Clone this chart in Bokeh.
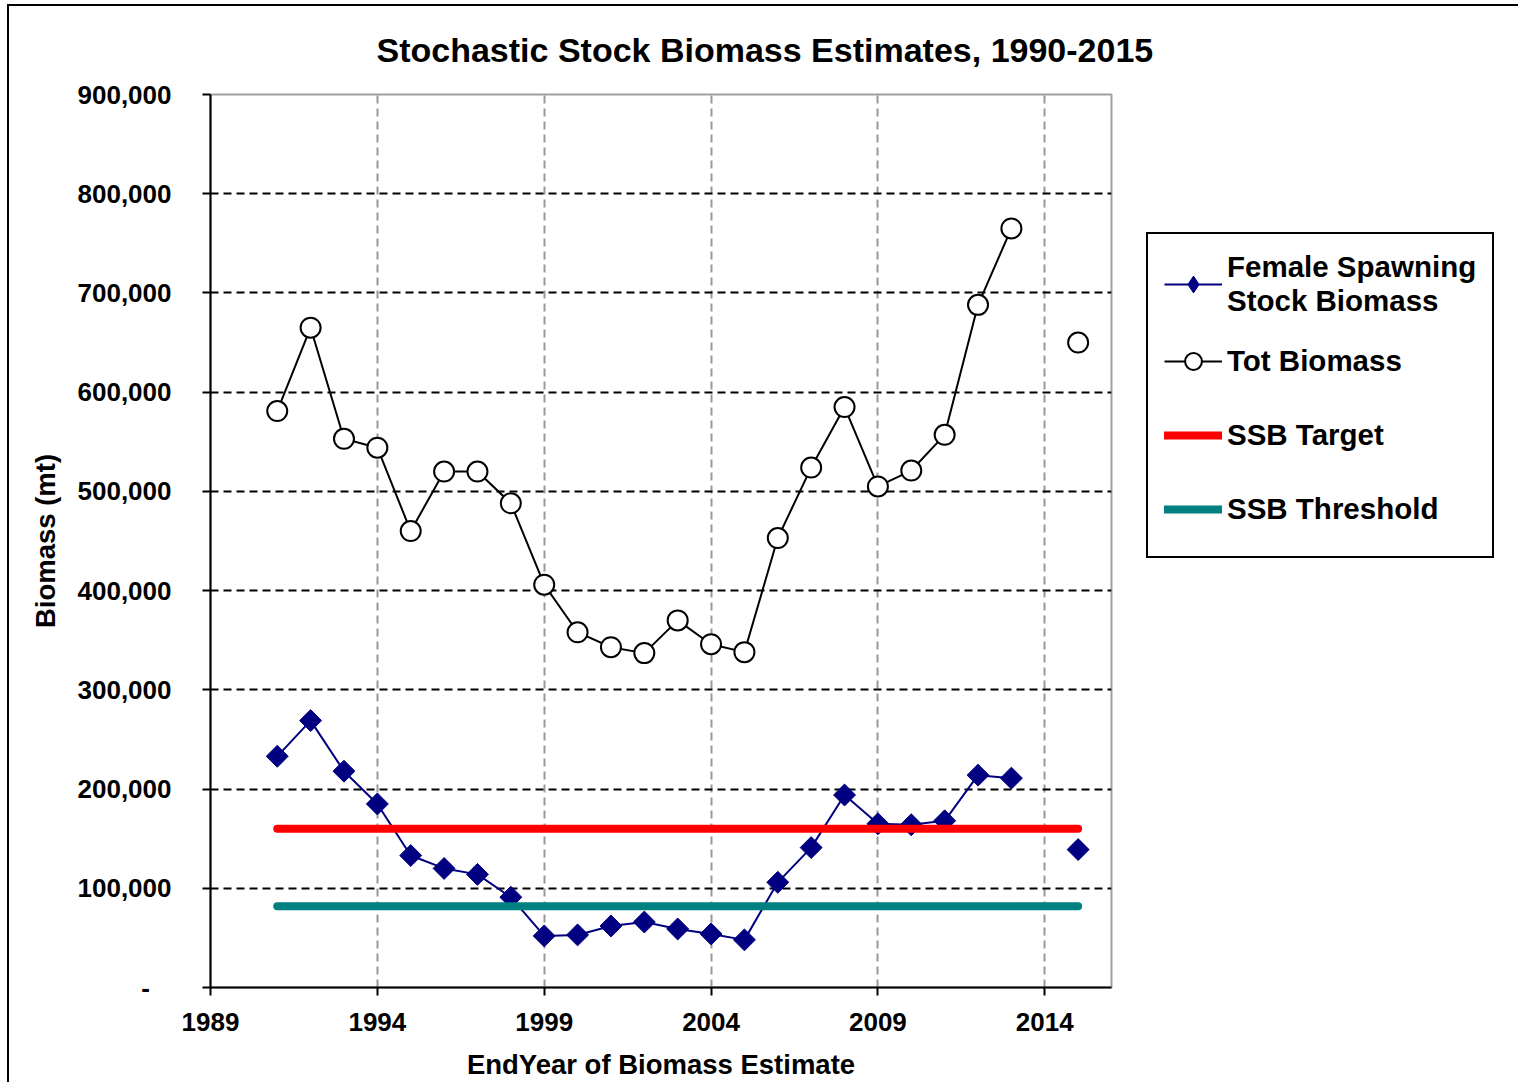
import numpy as np
from bokeh.plotting import figure
from bokeh.models import Range1d, FixedTicker, NumeralTickFormatter, Legend, LegendItem
from bokeh.embed import file_html
from bokeh.resources import INLINE

nan = float("nan")
years = list(range(1991, 2016))
ssb = [233000, 269000, 218000, 185000, 133000, 120000, 114000, 91000, 52000, 53000,
       62000, 66000, 59000, 54000, 48000, 106000, 141000, 194000, 165000, 164000,
       168000, 214000, 211000, nan, 139000]
tot = [581000, 665000, 553000, 544000, 460000, 520000, 520000, 488000, 406000, 358000,
       343000, 337000, 370000, 346000, 338000, 453000, 524000, 585000, 505000, 521000,
       557000, 688000, 765000, nan, 650000]
ref_years = [1991, 2015]
ssb_target = [160000, 160000]
ssb_threshold = [82000, 82000]
x_ticks = [1989, 1994, 1999, 2004, 2009, 2014]
y_ticks = list(range(0, 900001, 100000))

FONT = "Liberation Sans"

p = figure(frame_width=901, frame_height=893, x_range=Range1d(1989, 2016), y_range=Range1d(0, 900000),
           output_backend="svg", toolbar_location=None,
           min_border_left=201, min_border_right=0, min_border_top=88, min_border_bottom=80,
           styles={"margin-left": "7px", "margin-top": "4px",
                   "border-left": "2px solid black", "border-top": "2px solid black"})

p.title.text = "Stochastic Stock Biomass Estimates, 1990-2015"
p.title.text_font = FONT
p.title.text_font_size = "34px"
p.title.text_font_style = "bold"
p.title.text_color = "black"
p.title.align = "left"
p.title.vertical_align = "top"
p.title.offset = 166
p.title.standoff = 48

p.outline_line_color = "#a0a0a0"
p.outline_line_width = 2

for ax in (p.xaxis[0], p.yaxis[0]):
    ax.axis_line_color = "black"
    ax.axis_line_width = 2
    ax.major_tick_line_color = "black"
    ax.major_tick_line_width = 2
    ax.major_tick_in = 0
    ax.major_tick_out = 8
    ax.minor_tick_line_color = None
    ax.major_label_text_font = FONT
    ax.major_label_text_font_style = "bold"
    ax.major_label_text_font_size = "26px"
    ax.major_label_text_color = "black"
    ax.axis_label_text_font = FONT
    ax.axis_label_text_font_style = "bold"
    ax.axis_label_text_font_size = "27.5px"
    ax.axis_label_text_color = "black"

p.xaxis.ticker = FixedTicker(ticks=x_ticks)
p.yaxis.ticker = FixedTicker(ticks=y_ticks)
p.yaxis.formatter = NumeralTickFormatter(format="0,0")
p.yaxis.major_label_overrides = {0: "-\u00a0\u00a0\u00a0"}
p.xaxis.axis_label = "EndYear of Biomass Estimate"
p.yaxis.axis_label = "Biomass (mt)"
p.xaxis.major_label_standoff = 17
p.xaxis.axis_label_standoff = 15
p.yaxis.major_label_standoff = 31
p.yaxis.axis_label_standoff = 14

p.xgrid.grid_line_color = "#999999"
p.xgrid.grid_line_width = 2
p.xgrid.grid_line_dash = "8 5"
p.ygrid.grid_line_color = "black"
p.ygrid.grid_line_width = 2
p.ygrid.grid_line_dash = "8 5"

tot_line = p.line(years, tot, line_color="black", line_width=2)
tot_pts = p.scatter(years, tot, marker="circle", size=20, fill_color="white",
                    line_color="black", line_width=2)
ssb_line = p.line(years, ssb, line_color="#000080", line_width=2)
ssb_pts = p.scatter(years, ssb, marker="square", angle=np.pi / 4, size=15.5,
                    fill_color="#000080", line_color="#000080", line_width=1)
tgt = p.line(ref_years, ssb_target, line_color="#ff0000", line_width=8, line_cap="round")
thr = p.line(ref_years, ssb_threshold, line_color="#008080", line_width=8, line_cap="round")
# legend-only diamond swatch (drawn nowhere: NaN position)
ssb_key = p.scatter([nan], [nan], marker="diamond", size=10,
                    fill_color="#000080", line_color="#000080", line_width=1)

legend = Legend(items=[
    LegendItem(label="Female Spawning\nStock Biomass", renderers=[ssb_line, ssb_key]),
    LegendItem(label="Tot Biomass", renderers=[tot_line, tot_pts]),
    LegendItem(label="SSB Target", renderers=[tgt]),
    LegendItem(label="SSB Threshold", renderers=[thr]),
], location=(35, 429))
legend.border_line_color = "black"
legend.border_line_alpha = 1
legend.border_line_width = 2
legend.background_fill_color = "white"
legend.background_fill_alpha = 1
legend.label_text_font = FONT
legend.label_text_font_style = "bold"
legend.label_text_font_size = "29.5px"
legend.label_text_color = "black"
legend.glyph_width = 58
legend.glyph_height = 42
legend.label_standoff = 5
legend.spacing = 12
legend.padding = 16
legend.label_height = 62
legend.margin = 0
p.add_layout(legend, "right")

open("out.html", "w").write(file_html(p, INLINE))
